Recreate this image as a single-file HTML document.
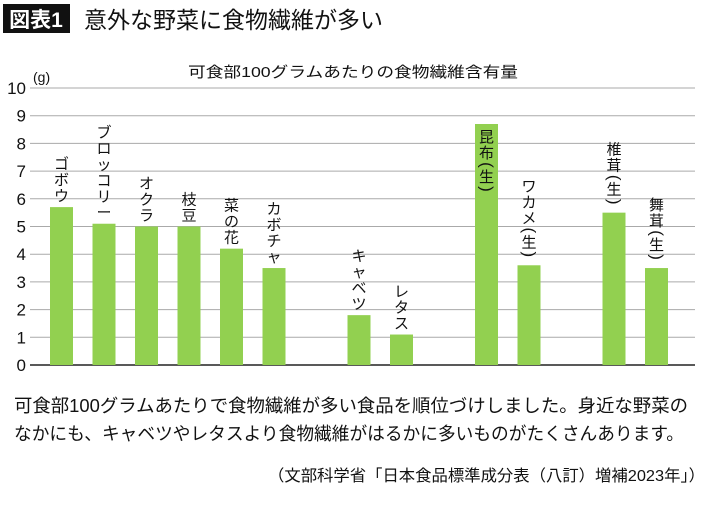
<!DOCTYPE html>
<html><head><meta charset="utf-8">
<style>
body{margin:0;background:#fff;width:710px;height:500px;overflow:hidden;font-family:"Liberation Sans","Noto Sans CJK JP",sans-serif;}
svg text{font-family:"Liberation Sans","Noto Sans CJK JP",sans-serif;}
</style></head><body>
<svg id="chart" width="710" height="500">
<rect x="3" y="4" width="67" height="29" fill="#111"/>
<text x="36" y="27" font-size="21" font-weight="bold" fill="#fff" text-anchor="middle">図表1</text>
<text x="84" y="28" font-size="23" fill="#111">意外な野菜に食物繊維が多い</text>
<text x="188" y="77" font-size="15" fill="#111" textLength="330" lengthAdjust="spacingAndGlyphs">可食部100グラムあたりの食物繊維含有量</text>
<text x="33" y="82" font-size="14" fill="#111">(g)</text>
<g id="grid"></g><g id="bars"></g>
<text x="14" y="412" font-size="18" fill="#111" textLength="674" lengthAdjust="spacingAndGlyphs">可食部100グラムあたりで食物繊維が多い食品を順位づけしました。身近な野菜の</text>
<text x="14" y="440" font-size="18" fill="#111" textLength="670" lengthAdjust="spacingAndGlyphs">なかにも、キャベツやレタスより食物繊維がはるかに多いものがたくさんあります。</text>
<text x="268" y="481" font-size="16" fill="#111" textLength="437" lengthAdjust="spacingAndGlyphs">（文部科学省「日本食品標準成分表（八訂）増補2023年」）</text>
</svg>
<script>
const categories=["ゴボウ","ブロッコリー","オクラ","枝豆","菜の花","カボチャ","キャベツ","レタス","昆布(生)","ワカメ(生)","椎茸(生)","舞茸(生)"];
const values=[5.7,5.1,5.0,5.0,4.2,3.5,1.8,1.1,8.7,3.6,5.5,3.5];
const slots=[0,1,2,3,4,5,7,8,10,11,13,14];
const yTicks=[0,1,2,3,4,5,6,7,8,9,10];
const NS="http://www.w3.org/2000/svg";
const y0=365,y10=88;
const yS=v=>y0-(y0-y10)*v/10;
const xS=s=>61.5+42.5*s;
const grid=document.getElementById('grid'),bars=document.getElementById('bars');
yTicks.forEach(t=>{
  const l=document.createElementNS(NS,'line');
  l.setAttribute('x1',30);l.setAttribute('x2',695);
  l.setAttribute('y1',yS(t));l.setAttribute('y2',yS(t));
  l.setAttribute('stroke',t===0?'#222':'#aaa');l.setAttribute('stroke-width',t===0?1.5:1);
  
  
  grid.appendChild(l);
  const tx=document.createElementNS(NS,'text');
  tx.setAttribute('x',26);tx.setAttribute('y',yS(t)+6);
  tx.setAttribute('font-size','17');tx.setAttribute('text-anchor','end');tx.setAttribute('fill','#111');
  tx.textContent=t;
  
  
  grid.appendChild(tx);
});
categories.forEach((c,i)=>{
  const cx=xS(slots[i]),top=yS(values[i]);
  const r=document.createElementNS(NS,'rect');
  r.setAttribute('x',cx-11.5);r.setAttribute('width',23);
  r.setAttribute('y',top);r.setAttribute('height',y0-top);
  r.setAttribute('fill','#92d050');
  
  
  bars.appendChild(r);
  const chars=c.split('');
  const adv=ch=>(ch==='('||ch===')')?8:16;
  let total=0;chars.forEach((ch,k)=>{if(k>0)total+=adv(ch)/2+adv(chars[k-1])/2;});
  const inside=values[i]>8;
  let yy=inside?top+18:top-6-total;
  chars.forEach((ch,k)=>{
    if(k>0)yy+=adv(ch)/2+adv(chars[k-1])/2;
    const t=document.createElementNS(NS,'text');
    const paren=ch==='('||ch===')';
    t.setAttribute('font-size','15');t.setAttribute('fill','#111');
    t.setAttribute('text-anchor','middle');
    if(paren){t.setAttribute('transform','translate('+cx+','+(yy-5)+') rotate(90)');t.setAttribute('x',0);t.setAttribute('y',5);t.setAttribute('font-size','17');}
    else{t.setAttribute('x',cx);t.setAttribute('y',yy);}
    t.textContent=ch;
    
    
    bars.appendChild(t);
  });
});
</script>
</body></html>
